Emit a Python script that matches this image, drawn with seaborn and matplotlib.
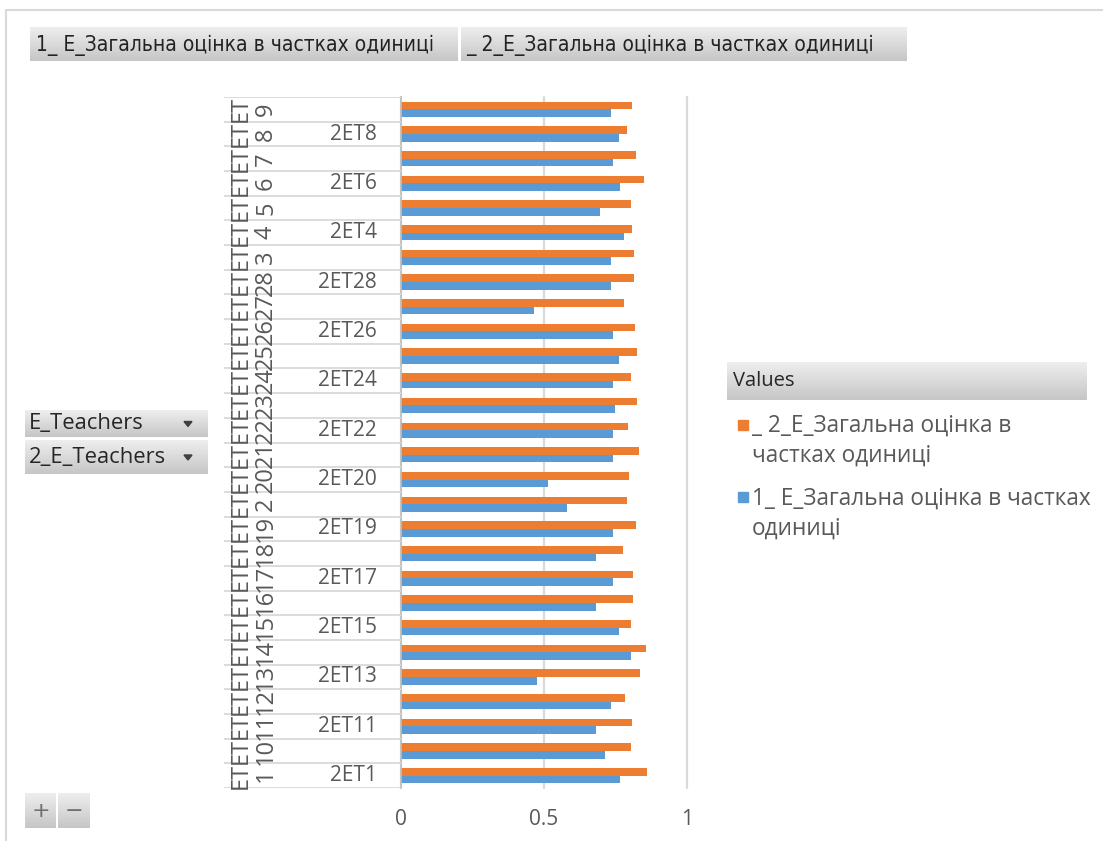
import numpy as np
import pandas as pd
import matplotlib
matplotlib.use("Agg")
import matplotlib.pyplot as plt
import seaborn as sns
from matplotlib import font_manager
from matplotlib.colors import LinearSegmentedColormap
from matplotlib.patches import Rectangle, Polygon
from matplotlib.lines import Line2D

# ---------------------------------------------------------------- data
series_1 = "1_ E_Загальна оцінка в частках одиниці"
series_2 = "_ 2_E_Загальна оцінка в частках одиниці"

# teachers, listed top to bottom
outer_labels = ["ET 9", "ET 8", "ET 7", "ET 6", "ET 5", "ET 4", "ET 3",
                "ET28", "ET27", "ET26", "ET25", "ET24", "ET23", "ET22",
                "ET21", "ET20", "ET 2", "ET19", "ET18", "ET17", "ET16",
                "ET15", "ET14", "ET13", "ET12", "ET11", "ET10", "ET 1"]
inner_labels = ["2ET9", "2ET8", "2ET7", "2ET6", "2ET5", "2ET4", "2ET3",
                "2ET28", "2ET27", "2ET26", "2ET25", "2ET24", "2ET23", "2ET22",
                "2ET21", "2ET20", "2ET2", "2ET19", "2ET18", "2ET17", "2ET16",
                "2ET15", "2ET14", "2ET13", "2ET12", "2ET11", "2ET10", "2ET1"]

values_2 = [0.809, 0.789, 0.823, 0.851, 0.803, 0.809, 0.814,
            0.814, 0.780, 0.817, 0.826, 0.803, 0.826, 0.794,
            0.831, 0.798, 0.789, 0.822, 0.775, 0.812, 0.812,
            0.803, 0.856, 0.837, 0.784, 0.808, 0.803, 0.860]
values_1 = [0.733, 0.761, 0.742, 0.766, 0.695, 0.780, 0.733,
            0.733, 0.464, 0.742, 0.761, 0.742, 0.747, 0.742,
            0.742, 0.515, 0.582, 0.742, 0.681, 0.742, 0.681,
            0.761, 0.803, 0.477, 0.733, 0.681, 0.714, 0.766]

x_ticks = [0, 0.5, 1]
x_tick_labels = ["0", "0.5", "1"]

legend_lines = {
    series_2: "_ 2_E_Загальна оцінка в\nчастках одиниці",
    series_1: "1_ E_Загальна оцінка в частках\nодиниці",
}
field_buttons = ["E_Teachers", "2_E_Teachers"]

ORANGE = "#ED7D31"
BLUE = "#5B9BD5"
TEXT = "#595959"
LINE = "#d9d9d9"

df = pd.DataFrame({
    "teacher": outer_labels * 2,
    "score": values_2 + values_1,
    "series": [series_2] * len(values_2) + [series_1] * len(values_1),
})

# ---------------------------------------------------------------- fonts
sns.set_style("white")
available = {f.name for f in font_manager.fontManager.ttflist}


def pick(*names):
    for n in names:
        if n in available:
            return n
    return "DejaVu Sans"


body_font = [pick("Open Sans", "Noto Sans"), "DejaVu Sans"]
narrow_name = pick("Liberation Sans Narrow", "Arial Narrow")
narrow_font = [narrow_name, "DejaVu Sans"]
plt.rcParams["font.family"] = body_font

W, H = 1103, 841
fig = plt.figure(figsize=(W / 100, H / 100), dpi=100)
fig.patch.set_facecolor("white")


def fx(px):
    return px / W


def fy(py):
    return 1 - py / H


# ---------------------------------------------------------------- outer frame
fig.add_artist(Line2D([fx(6), 1], [fy(10), fy(10)], color=LINE, lw=1.5,
                      transform=fig.transFigure))
fig.add_artist(Line2D([fx(6), fx(6)], [fy(10), 0], color=LINE, lw=1.5,
                      transform=fig.transFigure))

# ---------------------------------------------------------------- buttons
button_cmap = LinearSegmentedColormap.from_list("btn", ["#eeeeee", "#c6c6c6"])


def button(x0, y0, x1, y1):
    bax = fig.add_axes([fx(x0), fy(y1), (x1 - x0) / W, (y1 - y0) / H])
    grad = np.linspace(0, 1, 64).reshape(-1, 1)
    bax.imshow(grad, aspect="auto", cmap=button_cmap, extent=[0, 1, 0, 1])
    bax.set_axis_off()
    return bax


# series buttons at the top
button(30, 27, 458, 61)
button(461, 27, 906, 61)
top_kw = dict(fontsize=19, color="#222222", va="center", ha="left")
if narrow_name == "DejaVu Sans":
    top_kw.update(fontsize=15, fontstretch="condensed")
fig.text(fx(36), fy(45), series_1, family=narrow_font, **top_kw)
fig.text(fx(466), fy(45), series_2, family=narrow_font, **top_kw)

# row field buttons on the left
for (y0, y1), name in zip([(410, 437), (440, 474)], field_buttons):
    button(25, y0, 208, y1)
    yc = (y0 + y1) / 2
    fig.text(fx(29), fy(yc), name, fontsize=15.8, color="#262626",
             va="center", ha="left")
    fig.add_artist(Polygon([[fx(184), fy(yc - 2)], [fx(192), fy(yc - 2)],
                            [fx(188), fy(yc + 3)]], closed=True,
                           color="#404040", transform=fig.transFigure))

# zoom buttons at the bottom left
for (x0, x1), sym in zip([(25, 56), (58, 90)], ["+", "\u2212"]):
    button(x0, 793, x1, 828)
    fig.text(fx((x0 + x1) / 2), fy(811), sym, fontsize=16, color="#707070",
             ha="center", va="center", family=["DejaVu Sans"])

# ---------------------------------------------------------------- bars
ax = fig.add_axes([fx(401), fy(788), 286 / W, 691 / H])
sns.barplot(data=df, y="teacher", x="score", hue="series",
            order=outer_labels, hue_order=[series_2, series_1],
            palette=[ORANGE, BLUE], orient="h", width=0.62,
            errorbar=None, legend=False, saturation=1, linewidth=0, ax=ax)
ax.set_xlim(0, 1)
ax.set_xticks(x_ticks)
ax.set_xticklabels(x_tick_labels)
ax.set_yticks([])
ax.set_xlabel("")
ax.set_ylabel("")
ax.tick_params(axis="x", length=0, pad=15, labelsize=15, labelcolor=TEXT)
for side in ["top", "right", "bottom"]:
    ax.spines[side].set_visible(False)
ax.spines["left"].set_color("#bfbfbf")
ax.spines["left"].set_linewidth(1.2)
ax.set_axisbelow(True)
ax.xaxis.grid(True, color=LINE, lw=1.6)
for gl in ax.get_xgridlines():
    gl.set_clip_on(False)

# ---------------------------------------------------------------- two-level category labels
lab = fig.add_axes([fx(224), fy(788), (401 - 224) / W, 691 / H])
lab.set_xlim(224, 401)
lab.set_ylim(ax.get_ylim())
lab.set_axis_off()
n = len(outer_labels)
lab.hlines(np.arange(n + 1) - 0.5, 224, 401, color=LINE, lw=1.3)
for i, (outer, inner) in enumerate(zip(outer_labels, inner_labels)):
    prefix, number = outer[:2], outer[2:].strip()
    lab.text(241, i, prefix, rotation=90, ha="center", va="center",
             fontsize=17, color=TEXT)
    lab.text(266, i, number, rotation=90, ha="center", va="center",
             fontsize=17, color=TEXT)
    if (n - 1 - i) % 2 == 0:
        lab.text(377, i, inner, ha="right", va="center",
                 fontsize=15, color=TEXT)

# ---------------------------------------------------------------- legend
button(727, 362, 1087, 400)
fig.text(fx(733), fy(381), "Values", fontsize=14.5, color="#262626",
         ha="left", va="center")
for (ytop, yc), name, col in zip([(414, 425), (487, 497)],
                                 [series_2, series_1], [ORANGE, BLUE]):
    fig.add_artist(Rectangle((fx(738), fy(yc + 5)), 10 / W, 10 / H,
                             color=col, transform=fig.transFigure))
    fig.text(fx(752), fy(ytop), legend_lines[name], fontsize=16.3,
             color=TEXT, ha="left", va="top", linespacing=1.3)

fig.savefig("out.png", dpi=100, facecolor="white")
